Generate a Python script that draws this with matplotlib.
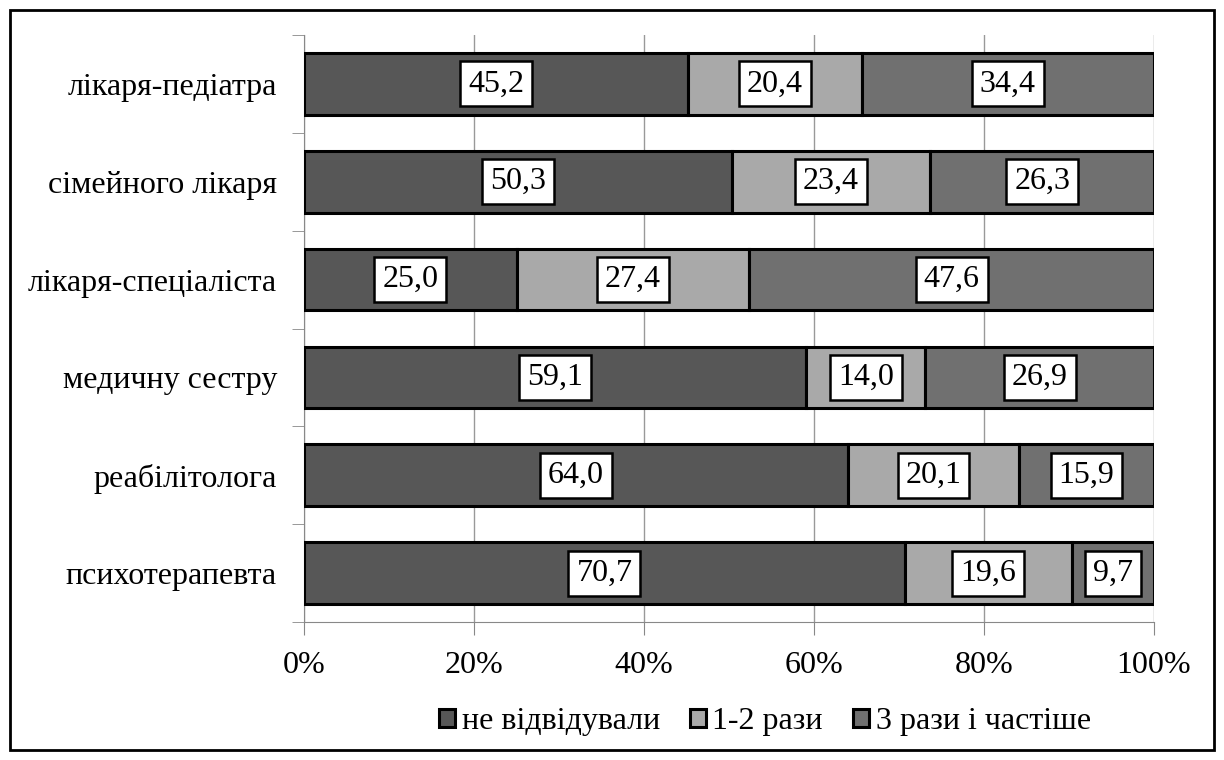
import matplotlib
matplotlib.use("Agg")
import matplotlib.pyplot as plt
import numpy as np
from matplotlib.patches import Rectangle

plt.rcParams['font.family'] = ['Liberation Serif', 'DejaVu Serif']

categories = ["лікаря-педіатра", "сімейного лікаря", "лікаря-спеціаліста",
              "медичну сестру", "реабілітолога", "психотерапевта"]
series_names = ["не відвідували", "1-2 рази", "3 рази і частіше"]
never = [45.2, 50.3, 25.0, 59.1, 64.0, 70.7]
once_twice = [20.4, 23.4, 27.4, 14.0, 20.1, 19.6]
three_plus = [34.4, 26.3, 47.6, 26.9, 15.9, 9.7]
x_ticks = [0, 20, 40, 60, 80, 100]
x_labels = ["0%", "20%", "40%", "60%", "80%", "100%"]

colors = ["#575757", "#a9a9a9", "#707070"]
FS = 23

fig = plt.figure(figsize=(12.24, 7.6), dpi=100)
# outer border
fig.patches.append(Rectangle((10/1224, 10/760), 1204/1224, 740/760, transform=fig.transFigure,
                             fill=False, edgecolor="black", linewidth=2))

ax = fig.add_axes([304/1224, (760-622)/760, 850/1224, 587/760])
n = len(categories)
y = np.arange(n)[::-1]
data = [never, once_twice, three_plus]
left = np.zeros(n)
for vals, col, name in zip(data, colors, series_names):
    vals = np.array(vals)
    ax.barh(y, vals, left=left, height=0.63, color=col, edgecolor="black",
            linewidth=2.2, label=name, zorder=3)
    for yi, l, v in zip(y, left, vals):
        ax.text(l + v/2, yi, f"{v:.1f}".replace(".", ","), ha="center", va="center",
                fontsize=FS, zorder=5,
                bbox=dict(boxstyle="square,pad=0.25", facecolor="white", edgecolor="black", linewidth=1.8))
    left += vals

ax.set_xlim(0, 100)
ax.set_ylim(-0.5, n - 0.5)
ax.set_xticks(x_ticks)
ax.set_xticklabels(x_labels, fontsize=FS)
ax.set_yticks(y)
ax.set_yticklabels(categories, fontsize=FS)
ax.tick_params(axis='y', length=0, pad=19.5)
ax.set_yticks(np.arange(-0.5, n, 1), minor=True)
ax.tick_params(axis='y', which='minor', length=9, color="#888888", direction='out')
ax.tick_params(axis='x', length=9, color="#888888", direction='out', pad=12)
ax.xaxis.grid(True, color="#999999", linewidth=1, zorder=0)
for s in ["top", "right"]:
    ax.spines[s].set_visible(False)
ax.spines["left"].set_color("#888888")
ax.spines["bottom"].set_color("#888888")

handles, labels = ax.get_legend_handles_labels()
fig.legend(handles, labels, loc="center", bbox_to_anchor=(765/1224, 1 - 722/760), ncol=3,
           frameon=False, fontsize=FS, handlelength=0.5, handleheight=0.5,
           handletextpad=0.2, columnspacing=0.95, borderpad=0)

fig.savefig("out.png", dpi=100)
